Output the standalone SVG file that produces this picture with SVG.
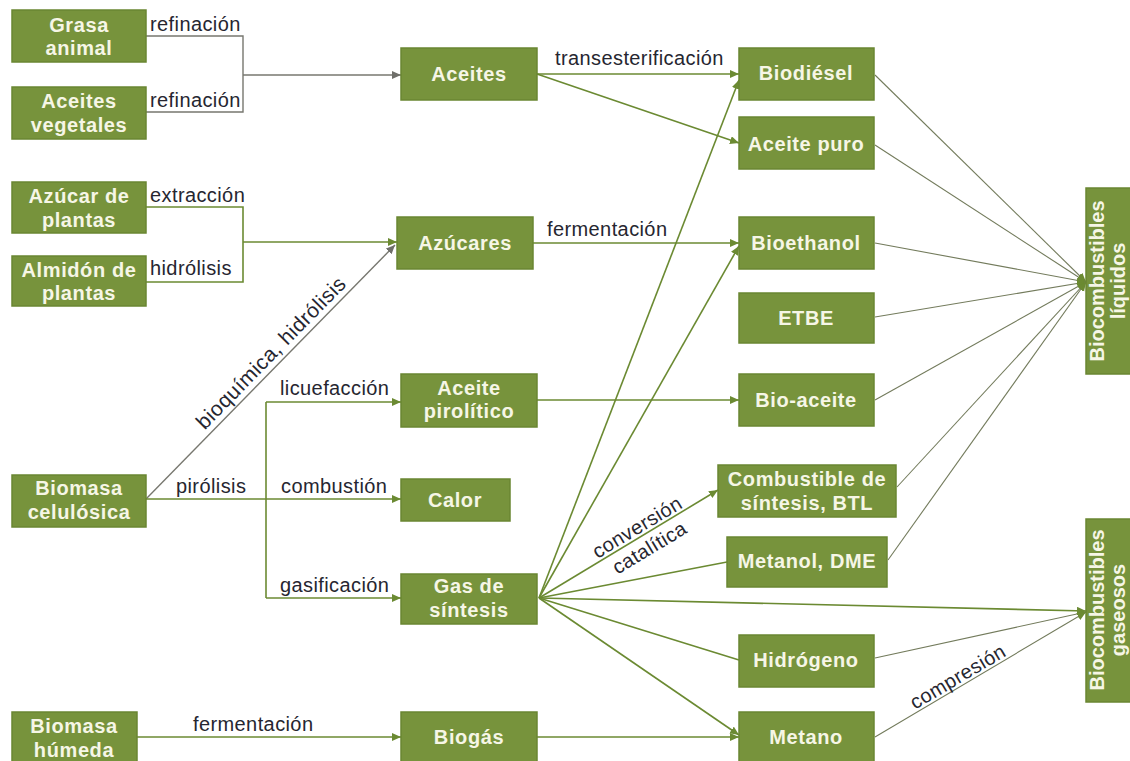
<svg xmlns="http://www.w3.org/2000/svg" width="1130" height="761" viewBox="0 0 1130 761">
  <defs>
    <marker id="arrowGreen" markerUnits="userSpaceOnUse" markerWidth="10" markerHeight="10" refX="9" refY="4" orient="auto">
      <path d="M0,0 L9,4 L0,8 z" fill="#6b8a32"/>
    </marker>
    <marker id="arrowGray" markerUnits="userSpaceOnUse" markerWidth="10" markerHeight="10" refX="9" refY="4" orient="auto">
      <path d="M0,0 L9,4 L0,8 z" fill="#6f6f6a"/>
    </marker>
    <style>
      .box { fill: #77933c; stroke: #6a8632; stroke-width: 1.5; }
      .nt { font-family: "Liberation Sans", Arial, sans-serif; font-size: 20px; font-weight: bold; fill: #f6f6e6; text-anchor: middle; letter-spacing: 0.6px; }
      .lbl { font-family: "Liberation Sans", Arial, sans-serif; font-size: 20px; fill: #262630; letter-spacing: 0.4px; }
      .g { fill: none; stroke: #6b8a32; stroke-width: 1.6; }
      .gr { fill: none; stroke: #77776f; stroke-width: 1.4; }
      .thin { fill: none; stroke: #737b5c; stroke-width: 1.1; }
      .ag { marker-end: url(#arrowGreen); }
      .agr { marker-end: url(#arrowGray); }
    </style>
  </defs>
  <rect width="1130" height="761" fill="#ffffff"/>

  <!-- connectors -->
  <g id="connectors">
    <!-- raw materials to oils -->
    <path class="gr" d="M146,36 H243 V112 H146"/>
    <path class="gr agr" d="M243,75 H401"/>
    <!-- sugar sources to sugars -->
    <path class="g" d="M146,207 H243 V282 H146"/>
    <path class="g ag" d="M243,242 H397"/>
    <!-- oils -->
    <path class="g ag" d="M537,74 H739"/>
    <path class="g ag" d="M537,74 L739,143"/>
    <!-- sugars -->
    <path class="g ag" d="M533,243 H739"/>
    <!-- cellulosic biomass -->
    <path class="gr agr" d="M146,499 L395,245"/>
    <path class="g ag" d="M146,499 H401"/>
    <path class="g" d="M266,402 V598"/>
    <path class="g ag" d="M266,402 H401"/>
    <path class="g ag" d="M266,598 H401"/>
    <!-- pyrolysis oil -->
    <path class="g ag" d="M537,400 H739"/>
    <!-- syngas fan -->
    <path class="g ag" d="M539,598 L739,80"/>
    <path class="g ag" d="M539,598 L739,246"/>
    <path class="g ag" d="M539,598 L718,490"/>
    <path class="g" d="M539,598 L727,562"/>
    <path class="g ag" d="M539,598 L1086,611"/>
    <path class="g" d="M539,598 L739,660"/>
    <path class="g ag" d="M539,598 L739,735"/>
    <!-- wet biomass and biogas -->
    <path class="g ag" d="M137,737 H401"/>
    <path class="g ag" d="M537,737 H739"/>
    <!-- liquid biofuels -->
    <path class="thin ag" d="M875,75 L1086,282"/>
    <path class="thin ag" d="M875,145 L1086,282"/>
    <path class="thin ag" d="M875,243 L1086,282"/>
    <path class="thin ag" d="M875,317 L1086,282"/>
    <path class="thin ag" d="M875,400 L1086,282"/>
    <path class="thin ag" d="M897,487 L1086,282"/>
    <path class="thin ag" d="M888,560 L1086,282"/>
    <!-- gaseous biofuels -->
    <path class="thin ag" d="M875,658 L1086,612"/>
    <path class="thin ag" d="M875,737 L1086,612"/>

    <!-- connector labels -->
    <text class="lbl" x="150" y="31">refinación</text>
    <text class="lbl" x="150" y="107">refinación</text>
    <text class="lbl" x="150" y="202">extracción</text>
    <text class="lbl" x="150" y="275">hidrólisis</text>
    <text class="lbl" x="555" y="65">transesterificación</text>
    <text class="lbl" x="547" y="236">fermentación</text>
    <text class="lbl" x="280" y="395">licuefacción</text>
    <text class="lbl" x="176" y="493">pirólisis</text>
    <text class="lbl" x="281" y="493">combustión</text>
    <text class="lbl" x="280" y="592">gasificación</text>
    <text class="lbl" x="193" y="731">fermentación</text>
    <text class="lbl" text-anchor="middle" transform="translate(146,499) rotate(-45.6)" x="192" y="-6" style="font-size:21px">bioquímica, hidrólisis</text>
    <g transform="translate(643,535) rotate(-31)">
      <text class="lbl" text-anchor="middle" x="-1" y="-3">conversión</text>
      <text class="lbl" text-anchor="middle" x="-1" y="21">catalítica</text>
    </g>
    <text class="lbl" text-anchor="middle" transform="translate(875,737) rotate(-30.6)" x="102" y="-3">compresión</text>
  </g>

  <!-- feedstocks -->
  <g id="grasa-animal">
    <rect class="box" x="12" y="10" width="134" height="52"/>
    <text class="nt" x="79" y="32">Grasa</text>
    <text class="nt" x="79" y="55">animal</text>
  </g>
  <g id="aceites-vegetales">
    <rect class="box" x="12" y="87" width="134" height="52"/>
    <text class="nt" x="79" y="108">Aceites</text>
    <text class="nt" x="79" y="132">vegetales</text>
  </g>
  <g id="azucar-plantas">
    <rect class="box" x="12" y="182" width="134" height="51"/>
    <text class="nt" x="79" y="203">Azúcar de</text>
    <text class="nt" x="79" y="227">plantas</text>
  </g>
  <g id="almidon-plantas">
    <rect class="box" x="12" y="256" width="134" height="50"/>
    <text class="nt" x="79" y="277">Almidón de</text>
    <text class="nt" x="79" y="300">plantas</text>
  </g>
  <g id="biomasa-celulosica">
    <rect class="box" x="12" y="475" width="134" height="52"/>
    <text class="nt" x="79" y="495">Biomasa</text>
    <text class="nt" x="79" y="519">celulósica</text>
  </g>
  <g id="biomasa-humeda">
    <rect class="box" x="12" y="712" width="125" height="52"/>
    <text class="nt" x="74" y="733">Biomasa</text>
    <text class="nt" x="74" y="757">húmeda</text>
  </g>

  <!-- intermediates -->
  <g id="aceites">
    <rect class="box" x="401" y="48" width="136" height="52"/>
    <text class="nt" x="469" y="81">Aceites</text>
  </g>
  <g id="azucares">
    <rect class="box" x="397" y="217" width="136" height="52"/>
    <text class="nt" x="465" y="250">Azúcares</text>
  </g>
  <g id="aceite-pirolitico">
    <rect class="box" x="401" y="374" width="136" height="53"/>
    <text class="nt" x="469" y="395">Aceite</text>
    <text class="nt" x="469" y="418">pirolítico</text>
  </g>
  <g id="calor">
    <rect class="box" x="401" y="479" width="109" height="42"/>
    <text class="nt" x="455" y="507">Calor</text>
  </g>
  <g id="gas-sintesis">
    <rect class="box" x="401" y="574" width="136" height="50"/>
    <text class="nt" x="469" y="593">Gas de</text>
    <text class="nt" x="469" y="617">síntesis</text>
  </g>
  <g id="biogas">
    <rect class="box" x="401" y="712" width="136" height="52"/>
    <text class="nt" x="469" y="744">Biogás</text>
  </g>

  <!-- products -->
  <g id="biodiesel">
    <rect class="box" x="739" y="48" width="135" height="52"/>
    <text class="nt" x="806" y="80">Biodiésel</text>
  </g>
  <g id="aceite-puro">
    <rect class="box" x="739" y="117" width="135" height="52"/>
    <text class="nt" x="806" y="151">Aceite puro</text>
  </g>
  <g id="bioethanol">
    <rect class="box" x="739" y="217" width="135" height="52"/>
    <text class="nt" x="806" y="250">Bioethanol</text>
  </g>
  <g id="etbe">
    <rect class="box" x="739" y="293" width="135" height="50"/>
    <text class="nt" x="806" y="325">ETBE</text>
  </g>
  <g id="bio-aceite">
    <rect class="box" x="739" y="374" width="135" height="52"/>
    <text class="nt" x="806" y="407">Bio-aceite</text>
  </g>
  <g id="combustible-sintesis">
    <rect class="box" x="718" y="465" width="178" height="52"/>
    <text class="nt" x="807" y="486">Combustible de</text>
    <text class="nt" x="807" y="510">síntesis, BTL</text>
  </g>
  <g id="metanol-dme">
    <rect class="box" x="727" y="537" width="160" height="50"/>
    <text class="nt" x="807" y="568">Metanol, DME</text>
  </g>
  <g id="hidrogeno">
    <rect class="box" x="739" y="635" width="135" height="52"/>
    <text class="nt" x="806" y="667">Hidrógeno</text>
  </g>
  <g id="metano">
    <rect class="box" x="739" y="712" width="135" height="52"/>
    <text class="nt" x="806" y="744">Metano</text>
  </g>

  <!-- biofuel classes -->
  <g id="biocombustibles-liquidos">
    <rect class="box" x="1086" y="188" width="50" height="186"/>
    <g transform="translate(1104,281) rotate(-90)">
      <text class="nt" x="0" y="0" style="letter-spacing:0">Biocombustibles</text>
      <text class="nt" x="0" y="21" style="letter-spacing:0">líquidos</text>
    </g>
  </g>
  <g id="biocombustibles-gaseosos">
    <rect class="box" x="1086" y="519" width="50" height="183"/>
    <g transform="translate(1104,610) rotate(-90)">
      <text class="nt" x="0" y="0" style="letter-spacing:0">Biocombustibles</text>
      <text class="nt" x="0" y="21" style="letter-spacing:0">gaseosos</text>
    </g>
  </g>
</svg>
